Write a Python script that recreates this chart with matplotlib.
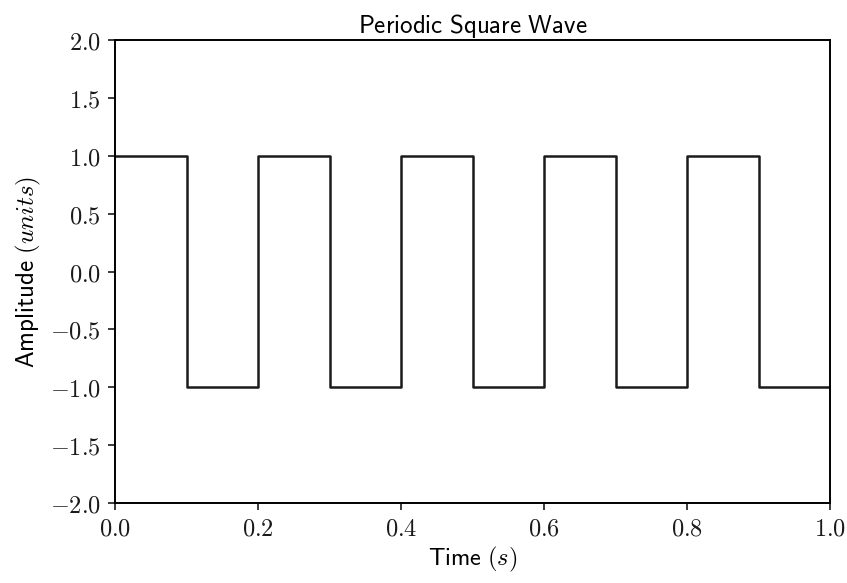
import matplotlib
matplotlib.use("Agg")
import matplotlib.pyplot as plt
from matplotlib.ticker import FuncFormatter, MultipleLocator

plt.rcParams['mathtext.fontset'] = 'cm'

# square wave: switching instants and the level held after each one
edge_times = [0.0, 0.1, 0.2, 0.3, 0.4, 0.5, 0.6, 0.7, 0.8, 0.9, 1.0]
levels = [1, -1, 1, -1, 1, -1, 1, -1, 1, -1, -1]

fig = plt.figure(figsize=(8.47, 5.83), dpi=100)
ax = fig.add_axes([0.1358, 0.1372, 0.8442, 0.7942])

ax.step(edge_times, levels, where='post', color='#1a1a1a', linewidth=1.8)

ax.set_xlim(0.0, 1.0)
ax.set_ylim(-2.0, 2.0)
ax.xaxis.set_major_locator(MultipleLocator(0.2))
ax.yaxis.set_major_locator(MultipleLocator(0.5))
fmt = FuncFormatter(lambda v, pos: r'$%.1f$' % v)
ax.xaxis.set_major_formatter(fmt)
ax.yaxis.set_major_formatter(fmt)
ax.tick_params(direction='out', length=5, width=1.2, labelsize=17.5,
               colors='#1a1a1a', pad=5)
for side in ax.spines.values():
    side.set_linewidth(1.4)

ax.set_title(r'$\mathsf{Periodic\ Square\ Wave}$', fontsize=18, pad=4)
ax.set_xlabel(r'$\mathsf{Time}\ (s)$', fontsize=17.5, labelpad=3)
ax.set_ylabel(r'$\mathsf{Amplitude}\ (units)$', fontsize=18, labelpad=5)

fig.savefig('out.png', dpi=100)
